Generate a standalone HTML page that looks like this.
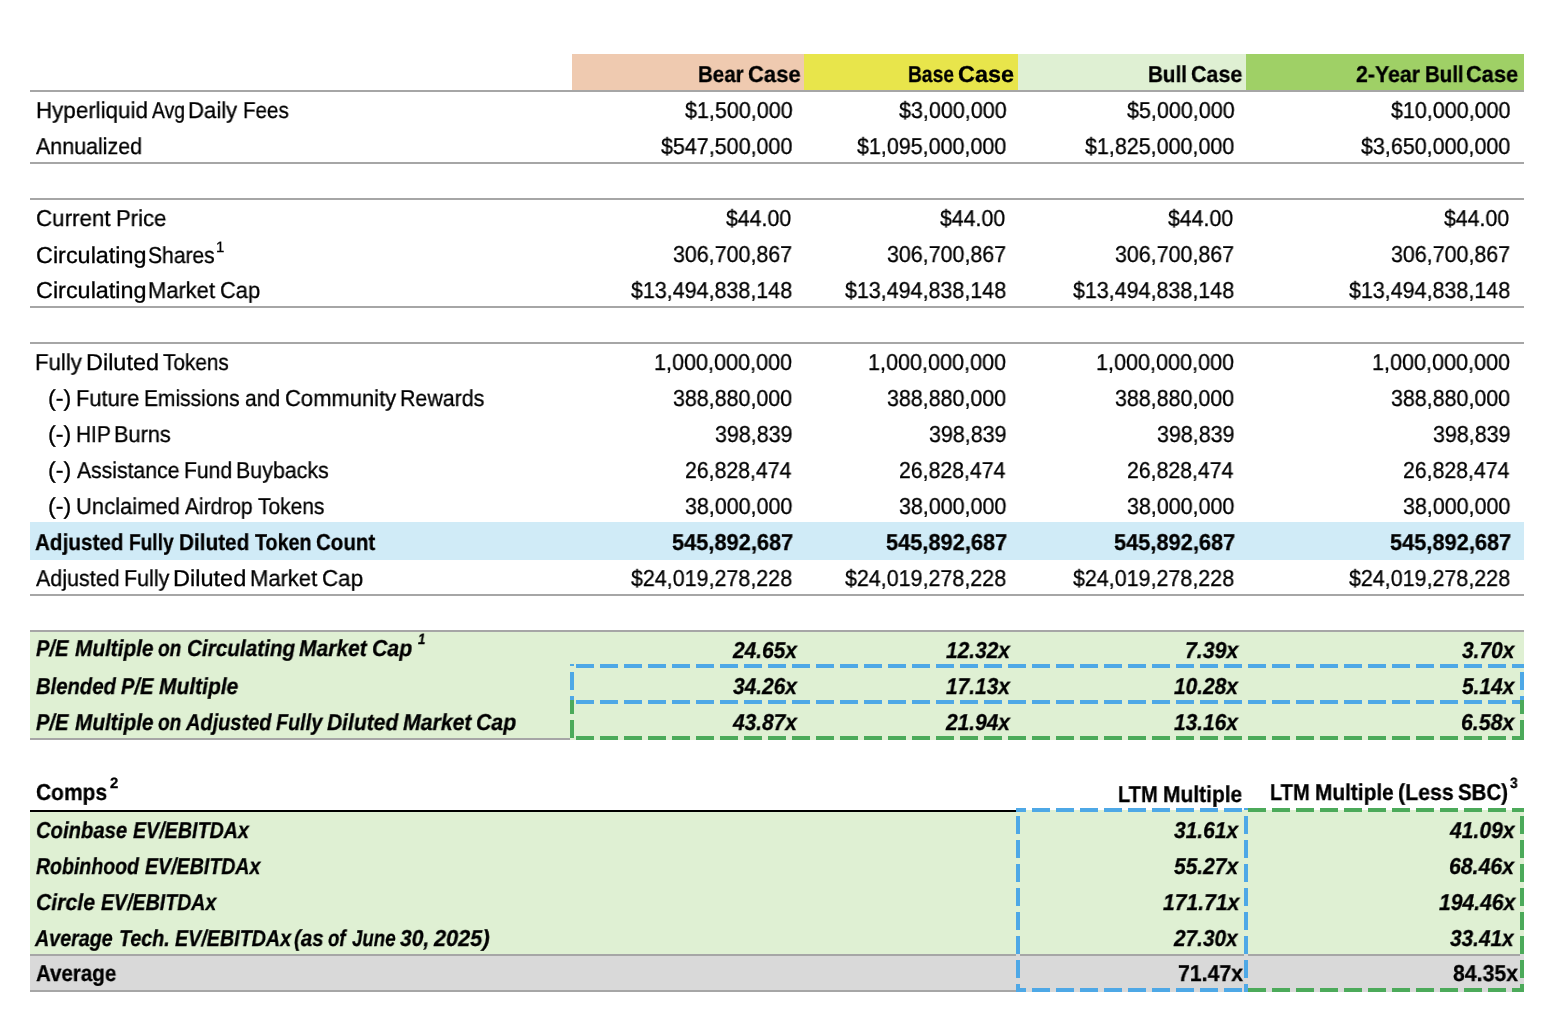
<!DOCTYPE html>
<html><head><meta charset="utf-8"><style>
html,body{margin:0;padding:0;background:#fff;}
body{width:1554px;height:1028px;position:relative;overflow:hidden;}
.r{position:absolute;}
.t{position:absolute;white-space:pre;font-family:"Liberation Sans",sans-serif;font-size:23px;line-height:36px;height:36px;color:#000;transform-origin:0 0;text-rendering:geometricPrecision;will-change:transform;word-spacing:-2px;-webkit-text-stroke:0.3px #000;}
.sup{font-size:15px;}
.ov{position:absolute;left:0;top:0;}
</style></head><body>
<div class="r" style="left:572px;top:54px;width:232px;height:36px;background:#EFCAB0"></div><div class="r" style="left:804px;top:54px;width:214px;height:36px;background:#E8E54B"></div><div class="r" style="left:1018px;top:54px;width:228px;height:36px;background:#DFF0D3"></div><div class="r" style="left:1246px;top:54px;width:278px;height:36px;background:#9FD066"></div><div class="r" style="left:30px;top:522px;width:1494px;height:38px;background:#D0EBF7"></div><div class="r" style="left:30px;top:632px;width:1494px;height:108px;background:#DFF0D3"></div><div class="r" style="left:30px;top:810px;width:1494px;height:144px;background:#DFF0D3"></div><div class="r" style="left:30px;top:954px;width:1494px;height:38px;background:#D9D9D9"></div>
<div class="r" style="left:30px;top:90px;width:1494px;height:2px;background:#A6A6A6"></div><div class="r" style="left:30px;top:162px;width:1494px;height:2px;background:#A6A6A6"></div><div class="r" style="left:30px;top:198px;width:1494px;height:2px;background:#A6A6A6"></div><div class="r" style="left:30px;top:306px;width:1494px;height:2px;background:#A6A6A6"></div><div class="r" style="left:30px;top:342px;width:1494px;height:2px;background:#A6A6A6"></div><div class="r" style="left:30px;top:594px;width:1494px;height:2px;background:#A6A6A6"></div><div class="r" style="left:30px;top:630px;width:1494px;height:2px;background:#A6A6A6"></div><div class="r" style="left:30px;top:738px;width:540px;height:2px;background:#A6A6A6"></div><div class="r" style="left:30px;top:954px;width:986px;height:2px;background:#A6A6A6"></div><div class="r" style="left:1020px;top:954px;width:224px;height:2px;background:#A6A6A6"></div><div class="r" style="left:1248px;top:954px;width:272px;height:2px;background:#A6A6A6"></div><div class="r" style="left:30px;top:990px;width:986px;height:2px;background:#A6A6A6"></div><div class="r" style="left:30px;top:810px;width:986px;height:2px;background:#000000"></div>
<svg class="ov" width="1554" height="1028" shape-rendering="crispEdges"><line x1="570" y1="666" x2="1524" y2="666" stroke="#4EA8E6" stroke-width="4" stroke-dasharray="18 6" stroke-dashoffset="18"/><line x1="570" y1="702" x2="1524" y2="702" stroke="#4EA8E6" stroke-width="4" stroke-dasharray="18 6" stroke-dashoffset="18"/><line x1="572" y1="664" x2="572" y2="700" stroke="#4EA8E6" stroke-width="4" stroke-dasharray="18 6" stroke-dashoffset="16"/><line x1="1522" y1="664" x2="1522" y2="700" stroke="#4EA8E6" stroke-width="4" stroke-dasharray="18 6" stroke-dashoffset="16"/><line x1="572" y1="700" x2="572" y2="740" stroke="#4CAA5A" stroke-width="4" stroke-dasharray="18 6" stroke-dashoffset="4"/><line x1="1522" y1="700" x2="1522" y2="740" stroke="#4CAA5A" stroke-width="4" stroke-dasharray="18 6" stroke-dashoffset="4"/><line x1="570" y1="738" x2="1524" y2="738" stroke="#4CAA5A" stroke-width="4" stroke-dasharray="18 6" stroke-dashoffset="18"/><line x1="1016" y1="810" x2="1248" y2="810" stroke="#4EA8E6" stroke-width="4" stroke-dasharray="18 6" stroke-dashoffset="8"/><line x1="1016" y1="990" x2="1248" y2="990" stroke="#4EA8E6" stroke-width="4" stroke-dasharray="18 6" stroke-dashoffset="8"/><line x1="1018" y1="808" x2="1018" y2="992" stroke="#4EA8E6" stroke-width="4" stroke-dasharray="18 6" stroke-dashoffset="16"/><line x1="1246" y1="808" x2="1246" y2="992" stroke="#4EA8E6" stroke-width="4" stroke-dasharray="18 6" stroke-dashoffset="16"/><line x1="1248" y1="810" x2="1524" y2="810" stroke="#4CAA5A" stroke-width="4" stroke-dasharray="18 6" stroke-dashoffset="0"/><line x1="1248" y1="990" x2="1524" y2="990" stroke="#4CAA5A" stroke-width="4" stroke-dasharray="18 6" stroke-dashoffset="0"/><line x1="1522" y1="808" x2="1522" y2="992" stroke="#4CAA5A" stroke-width="4" stroke-dasharray="18 6" stroke-dashoffset="16"/></svg>
<div class="t" style="left:698.21px;top:56px;font-weight:bold;transform:scaleX(0.8920)">Bear</div>
<div class="t" style="left:747.74px;top:56px;font-weight:bold;transform:scaleX(0.9566)">Case</div>
<div class="t" style="left:908.46px;top:56px;font-weight:bold;transform:scaleX(0.8358)">Base</div>
<div class="t" style="left:958.28px;top:56px;font-weight:bold;transform:scaleX(1.0189)">Case</div>
<div class="t" style="left:1148.40px;top:56px;font-weight:bold;transform:scaleX(0.8976)">Bull</div>
<div class="t" style="left:1190.87px;top:56px;font-weight:bold;transform:scaleX(0.9321)">Case</div>
<div class="t" style="left:1355.57px;top:56px;font-weight:bold;transform:scaleX(0.9279)">2-Year</div>
<div class="t" style="left:1424.61px;top:56px;font-weight:bold;transform:scaleX(0.8902)">Bull</div>
<div class="t" style="left:1466.25px;top:56px;font-weight:bold;transform:scaleX(0.9472)">Case</div>
<div class="t" style="left:35.75px;top:92px;transform:scaleX(0.9732)">Hyperliquid</div>
<div class="t" style="left:152.40px;top:92px;transform:scaleX(0.8395)">Avg</div>
<div class="t" style="left:188.37px;top:92px;transform:scaleX(0.9633)">Daily</div>
<div class="t" style="left:242.51px;top:92px;transform:scaleX(0.8939)">Fees</div>
<div class="t" style="left:684.60px;top:92px;transform:scaleX(0.9360)">$1,500,000</div>
<div class="t" style="left:898.50px;top:92px;transform:scaleX(0.9360)">$3,000,000</div>
<div class="t" style="left:1126.60px;top:92px;transform:scaleX(0.9360)">$5,000,000</div>
<div class="t" style="left:1390.60px;top:92px;transform:scaleX(0.9346)">$10,000,000</div>
<div class="t" style="left:36.30px;top:128px;transform:scaleX(0.9319)">Annualized</div>
<div class="t" style="left:660.60px;top:128px;transform:scaleX(0.9336)">$547,500,000</div>
<div class="t" style="left:856.70px;top:128px;transform:scaleX(0.9340)">$1,095,000,000</div>
<div class="t" style="left:1084.80px;top:128px;transform:scaleX(0.9340)">$1,825,000,000</div>
<div class="t" style="left:1360.80px;top:128px;transform:scaleX(0.9340)">$3,650,000,000</div>
<div class="t" style="left:35.73px;top:200px;transform:scaleX(0.9724)">Current</div>
<div class="t" style="left:115.57px;top:200px;transform:scaleX(0.9633)">Price</div>
<div class="t" style="left:726.40px;top:200px;transform:scaleX(0.9271)">$44.00</div>
<div class="t" style="left:940.30px;top:200px;transform:scaleX(0.9271)">$44.00</div>
<div class="t" style="left:1168.40px;top:200px;transform:scaleX(0.9271)">$44.00</div>
<div class="t" style="left:1444.40px;top:200px;transform:scaleX(0.9271)">$44.00</div>
<div class="t" style="left:35.68px;top:237px;transform:scaleX(1.0179)">Circulating</div>
<div class="t" style="left:148.08px;top:237px;transform:scaleX(0.9155)">Shares</div>
<div class="t" style="left:672.97px;top:236px;transform:scaleX(0.9317)">306,700,867</div>
<div class="t" style="left:886.87px;top:236px;transform:scaleX(0.9317)">306,700,867</div>
<div class="t" style="left:1114.97px;top:236px;transform:scaleX(0.9317)">306,700,867</div>
<div class="t" style="left:1390.97px;top:236px;transform:scaleX(0.9317)">306,700,867</div>
<div class="t" style="left:35.68px;top:272px;transform:scaleX(1.0179)">Circulating</div>
<div class="t" style="left:147.69px;top:272px;transform:scaleX(0.9529)">Market</div>
<div class="t" style="left:220.25px;top:272px;transform:scaleX(0.9500)">Cap</div>
<div class="t" style="left:630.80px;top:272px;transform:scaleX(0.9331)">$13,494,838,148</div>
<div class="t" style="left:844.70px;top:272px;transform:scaleX(0.9331)">$13,494,838,148</div>
<div class="t" style="left:1072.80px;top:272px;transform:scaleX(0.9331)">$13,494,838,148</div>
<div class="t" style="left:1348.80px;top:272px;transform:scaleX(0.9331)">$13,494,838,148</div>
<div class="t" style="left:35.07px;top:344px;transform:scaleX(0.9652)">Fully</div>
<div class="t" style="left:85.66px;top:344px;transform:scaleX(1.0191)">Diluted</div>
<div class="t" style="left:162.70px;top:344px;transform:scaleX(0.9042)">Tokens</div>
<div class="t" style="left:654.22px;top:344px;transform:scaleX(0.9389)">1,000,000,000</div>
<div class="t" style="left:868.12px;top:344px;transform:scaleX(0.9389)">1,000,000,000</div>
<div class="t" style="left:1096.22px;top:344px;transform:scaleX(0.9389)">1,000,000,000</div>
<div class="t" style="left:1372.22px;top:344px;transform:scaleX(0.9389)">1,000,000,000</div>
<div class="t" style="left:47.69px;top:380px;transform:scaleX(1.0143)">(-)</div>
<div class="t" style="left:75.80px;top:380px;transform:scaleX(0.9516)">Future</div>
<div class="t" style="left:144.07px;top:380px;transform:scaleX(0.9127)">Emissions</div>
<div class="t" style="left:244.58px;top:380px;transform:scaleX(0.9167)">and</div>
<div class="t" style="left:284.54px;top:380px;transform:scaleX(0.9557)">Community</div>
<div class="t" style="left:400.44px;top:380px;transform:scaleX(0.9295)">Rewards</div>
<div class="t" style="left:672.97px;top:380px;transform:scaleX(0.9317)">388,880,000</div>
<div class="t" style="left:886.87px;top:380px;transform:scaleX(0.9317)">388,880,000</div>
<div class="t" style="left:1114.97px;top:380px;transform:scaleX(0.9317)">388,880,000</div>
<div class="t" style="left:1390.97px;top:380px;transform:scaleX(0.9317)">388,880,000</div>
<div class="t" style="left:47.69px;top:416px;transform:scaleX(1.0143)">(-)</div>
<div class="t" style="left:75.88px;top:416px;transform:scaleX(0.9086)">HIP</div>
<div class="t" style="left:113.91px;top:416px;transform:scaleX(0.9456)">Burns</div>
<div class="t" style="left:714.77px;top:416px;transform:scaleX(0.9333)">398,839</div>
<div class="t" style="left:928.67px;top:416px;transform:scaleX(0.9333)">398,839</div>
<div class="t" style="left:1156.77px;top:416px;transform:scaleX(0.9333)">398,839</div>
<div class="t" style="left:1432.77px;top:416px;transform:scaleX(0.9333)">398,839</div>
<div class="t" style="left:47.69px;top:452px;transform:scaleX(1.0143)">(-)</div>
<div class="t" style="left:76.80px;top:452px;transform:scaleX(0.9209)">Assistance</div>
<div class="t" style="left:183.87px;top:452px;transform:scaleX(0.9163)">Fund</div>
<div class="t" style="left:235.94px;top:452px;transform:scaleX(0.9299)">Buybacks</div>
<div class="t" style="left:684.98px;top:452px;transform:scaleX(0.9246)">26,828,474</div>
<div class="t" style="left:898.88px;top:452px;transform:scaleX(0.9246)">26,828,474</div>
<div class="t" style="left:1126.98px;top:452px;transform:scaleX(0.9246)">26,828,474</div>
<div class="t" style="left:1402.98px;top:452px;transform:scaleX(0.9246)">26,828,474</div>
<div class="t" style="left:47.69px;top:488px;transform:scaleX(1.0143)">(-)</div>
<div class="t" style="left:75.69px;top:488px;transform:scaleX(0.9571)">Unclaimed</div>
<div class="t" style="left:184.90px;top:488px;transform:scaleX(0.9123)">Airdrop</div>
<div class="t" style="left:258.30px;top:488px;transform:scaleX(0.9125)">Tokens</div>
<div class="t" style="left:684.97px;top:488px;transform:scaleX(0.9327)">38,000,000</div>
<div class="t" style="left:898.87px;top:488px;transform:scaleX(0.9327)">38,000,000</div>
<div class="t" style="left:1126.97px;top:488px;transform:scaleX(0.9327)">38,000,000</div>
<div class="t" style="left:1402.97px;top:488px;transform:scaleX(0.9327)">38,000,000</div>
<div class="t" style="left:34.90px;top:524px;font-weight:bold;transform:scaleX(0.9000)">Adjusted</div>
<div class="t" style="left:128.77px;top:524px;font-weight:bold;transform:scaleX(0.8302)">Fully</div>
<div class="t" style="left:179.00px;top:524px;font-weight:bold;transform:scaleX(0.9013)">Diluted</div>
<div class="t" style="left:254.70px;top:524px;font-weight:bold;transform:scaleX(0.8554)">Token</div>
<div class="t" style="left:316.41px;top:524px;font-weight:bold;transform:scaleX(0.8908)">Count</div>
<div class="t" style="left:671.55px;top:524px;font-weight:bold;transform:scaleX(0.9484)">545,892,687</div>
<div class="t" style="left:885.55px;top:524px;font-weight:bold;transform:scaleX(0.9484)">545,892,687</div>
<div class="t" style="left:1113.55px;top:524px;font-weight:bold;transform:scaleX(0.9484)">545,892,687</div>
<div class="t" style="left:1389.55px;top:524px;font-weight:bold;transform:scaleX(0.9484)">545,892,687</div>
<div class="t" style="left:35.80px;top:560px;transform:scaleX(0.9341)">Adjusted</div>
<div class="t" style="left:123.63px;top:560px;transform:scaleX(0.9348)">Fully</div>
<div class="t" style="left:173.25px;top:560px;transform:scaleX(1.0235)">Diluted</div>
<div class="t" style="left:249.79px;top:560px;transform:scaleX(0.9559)">Market</div>
<div class="t" style="left:321.83px;top:560px;transform:scaleX(0.9725)">Cap</div>
<div class="t" style="left:630.80px;top:560px;transform:scaleX(0.9331)">$24,019,278,228</div>
<div class="t" style="left:844.70px;top:560px;transform:scaleX(0.9331)">$24,019,278,228</div>
<div class="t" style="left:1072.80px;top:560px;transform:scaleX(0.9331)">$24,019,278,228</div>
<div class="t" style="left:1348.80px;top:560px;transform:scaleX(0.9331)">$24,019,278,228</div>
<div class="t" style="left:36.40px;top:630px;font-weight:bold;font-style:italic;transform:scaleX(0.8763)">P/E</div>
<div class="t" style="left:74.80px;top:630px;font-weight:bold;font-style:italic;transform:scaleX(0.9035)">Multiple</div>
<div class="t" style="left:158.47px;top:630px;font-weight:bold;font-style:italic;transform:scaleX(0.8308)">on</div>
<div class="t" style="left:186.50px;top:630px;font-weight:bold;font-style:italic;transform:scaleX(0.9008)">Circulating</div>
<div class="t" style="left:298.90px;top:630px;font-weight:bold;font-style:italic;transform:scaleX(0.9133)">Market</div>
<div class="t" style="left:372.48px;top:630px;font-weight:bold;font-style:italic;transform:scaleX(0.9238)">Cap</div>
<div class="t" style="left:732.90px;top:632px;font-weight:bold;font-style:italic;transform:scaleX(0.9085)">24.65x</div>
<div class="t" style="left:945.90px;top:632px;font-weight:bold;font-style:italic;transform:scaleX(0.9085)">12.32x</div>
<div class="t" style="left:1184.88px;top:632px;font-weight:bold;font-style:italic;transform:scaleX(0.9246)">7.39x</div>
<div class="t" style="left:1462.00px;top:632px;font-weight:bold;font-style:italic;transform:scaleX(0.9086)">3.70x</div>
<div class="t" style="left:36.40px;top:668px;font-weight:bold;font-style:italic;transform:scaleX(0.8802)">Blended</div>
<div class="t" style="left:120.80px;top:668px;font-weight:bold;font-style:italic;transform:scaleX(0.8763)">P/E</div>
<div class="t" style="left:159.00px;top:668px;font-weight:bold;font-style:italic;transform:scaleX(0.9128)">Multiple</div>
<div class="t" style="left:732.90px;top:668px;font-weight:bold;font-style:italic;transform:scaleX(0.9085)">34.26x</div>
<div class="t" style="left:945.90px;top:668px;font-weight:bold;font-style:italic;transform:scaleX(0.9085)">17.13x</div>
<div class="t" style="left:1174.00px;top:668px;font-weight:bold;font-style:italic;transform:scaleX(0.9085)">10.28x</div>
<div class="t" style="left:1462.00px;top:668px;font-weight:bold;font-style:italic;transform:scaleX(0.9086)">5.14x</div>
<div class="t" style="left:36.40px;top:704px;font-weight:bold;font-style:italic;transform:scaleX(0.8763)">P/E</div>
<div class="t" style="left:74.80px;top:704px;font-weight:bold;font-style:italic;transform:scaleX(0.9035)">Multiple</div>
<div class="t" style="left:158.47px;top:704px;font-weight:bold;font-style:italic;transform:scaleX(0.8308)">on</div>
<div class="t" style="left:186.10px;top:704px;font-weight:bold;font-style:italic;transform:scaleX(0.8687)">Adjusted</div>
<div class="t" style="left:275.60px;top:704px;font-weight:bold;font-style:italic;transform:scaleX(0.8618)">Fully</div>
<div class="t" style="left:327.00px;top:704px;font-weight:bold;font-style:italic;transform:scaleX(0.9141)">Diluted</div>
<div class="t" style="left:402.70px;top:704px;font-weight:bold;font-style:italic;transform:scaleX(0.9227)">Market</div>
<div class="t" style="left:476.18px;top:704px;font-weight:bold;font-style:italic;transform:scaleX(0.9238)">Cap</div>
<div class="t" style="left:732.90px;top:704px;font-weight:bold;font-style:italic;transform:scaleX(0.9085)">43.87x</div>
<div class="t" style="left:945.90px;top:704px;font-weight:bold;font-style:italic;transform:scaleX(0.9085)">21.94x</div>
<div class="t" style="left:1174.00px;top:704px;font-weight:bold;font-style:italic;transform:scaleX(0.9085)">13.16x</div>
<div class="t" style="left:1461.08px;top:704px;font-weight:bold;font-style:italic;transform:scaleX(0.9246)">6.58x</div>
<div class="t" style="left:36.09px;top:774px;font-weight:bold;transform:scaleX(0.9118)">Comps</div>
<div class="t" style="left:1117.93px;top:776px;font-weight:bold;transform:scaleX(0.8698)">LTM</div>
<div class="t" style="left:1162.69px;top:776px;font-weight:bold;transform:scaleX(0.9118)">Multiple</div>
<div class="t" style="left:1270.13px;top:774px;font-weight:bold;transform:scaleX(0.8698)">LTM</div>
<div class="t" style="left:1314.89px;top:774px;font-weight:bold;transform:scaleX(0.9059)">Multiple</div>
<div class="t" style="left:1398.37px;top:774px;font-weight:bold;transform:scaleX(0.9276)">(Less</div>
<div class="t" style="left:1457.91px;top:774px;font-weight:bold;transform:scaleX(0.8889)">SBC)</div>
<div class="t" style="left:35.82px;top:812px;font-weight:bold;font-style:italic;transform:scaleX(0.8804)">Coinbase</div>
<div class="t" style="left:132.50px;top:812px;font-weight:bold;font-style:italic;transform:scaleX(0.8551)">EV/EBITDAx</div>
<div class="t" style="left:1174.20px;top:812px;font-weight:bold;font-style:italic;transform:scaleX(0.9113)">31.61x</div>
<div class="t" style="left:1449.80px;top:812px;font-weight:bold;font-style:italic;transform:scaleX(0.9183)">41.09x</div>
<div class="t" style="left:36.40px;top:848px;font-weight:bold;font-style:italic;transform:scaleX(0.8484)">Robinhood</div>
<div class="t" style="left:145.10px;top:848px;font-weight:bold;font-style:italic;transform:scaleX(0.8515)">EV/EBITDAx</div>
<div class="t" style="left:1174.20px;top:848px;font-weight:bold;font-style:italic;transform:scaleX(0.9113)">55.27x</div>
<div class="t" style="left:1449.38px;top:848px;font-weight:bold;font-style:italic;transform:scaleX(0.9243)">68.46x</div>
<div class="t" style="left:35.78px;top:884px;font-weight:bold;font-style:italic;transform:scaleX(0.9222)">Circle</div>
<div class="t" style="left:100.80px;top:884px;font-weight:bold;font-style:italic;transform:scaleX(0.8507)">EV/EBITDAx</div>
<div class="t" style="left:1162.60px;top:884px;font-weight:bold;font-style:italic;transform:scaleX(0.9193)">171.71x</div>
<div class="t" style="left:1438.70px;top:884px;font-weight:bold;font-style:italic;transform:scaleX(0.9193)">194.46x</div>
<div class="t" style="left:35.40px;top:920px;font-weight:bold;font-style:italic;transform:scaleX(0.8544)">Average</div>
<div class="t" style="left:119.14px;top:920px;font-weight:bold;font-style:italic;transform:scaleX(0.8571)">Tech.</div>
<div class="t" style="left:174.70px;top:920px;font-weight:bold;font-style:italic;transform:scaleX(0.8566)">EV/EBITDAx</div>
<div class="t" style="left:294.31px;top:920px;font-weight:bold;font-style:italic;transform:scaleX(0.8875)">(as</div>
<div class="t" style="left:328.39px;top:920px;font-weight:bold;font-style:italic;transform:scaleX(0.8087)">of</div>
<div class="t" style="left:351.60px;top:920px;font-weight:bold;font-style:italic;transform:scaleX(0.8113)">June</div>
<div class="t" style="left:400.30px;top:920px;font-weight:bold;font-style:italic;transform:scaleX(0.9167)">30,</div>
<div class="t" style="left:433.80px;top:920px;font-weight:bold;font-style:italic;transform:scaleX(0.9448)">2025)</div>
<div class="t" style="left:1173.80px;top:920px;font-weight:bold;font-style:italic;transform:scaleX(0.9042)">27.30x</div>
<div class="t" style="left:1450.30px;top:920px;font-weight:bold;font-style:italic;transform:scaleX(0.9042)">33.41x</div>
<div class="t" style="left:36.11px;top:955px;font-weight:bold;transform:scaleX(0.8920)">Average</div>
<div class="t" style="left:1177.88px;top:955px;font-weight:bold;transform:scaleX(0.9246)">71.47x</div>
<div class="t" style="left:1453.48px;top:955px;font-weight:bold;transform:scaleX(0.9246)">84.35x</div>
<div class="t sup" style="left:215.93px;top:229.6px;transform:scaleX(0.9714)">1</div>
<div class="t sup" style="left:418.10px;top:621.8px;font-weight:bold;font-style:italic;transform:scaleX(0.8875)">1</div>
<div class="t sup" style="left:110.10px;top:766.0px;font-weight:bold;transform:scaleX(0.9875)">2</div>
<div class="t sup" style="left:1510.40px;top:766.0px;font-weight:bold;transform:scaleX(0.9250)">3</div>
</body></html>
